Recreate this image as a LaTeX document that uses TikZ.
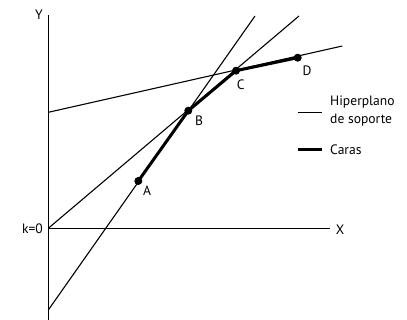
\documentclass[tikz,border=0pt]{standalone}
\usepackage{fontspec}
\setmainfont{PT Sans}
\usetikzlibrary{positioning}

\tikzset{
  hyperline/.style={black,line width=1.1pt},
  faceline/.style={black,line width=3pt},
  vertexdot/.style={circle,fill=black,inner sep=0pt,minimum size=8pt},
  ptlabel/.style={font=\fontsize{13.6}{18}\selectfont,inner sep=1pt},
}

\begin{document}
\begin{tikzpicture}[x=1pt,y=-1pt]
  \useasboundingbox (0,0) rectangle (407,320);

  % Axes, origin at k=0
  \coordinate (O) at (48.3,228.3);
  \coordinate (Ytop) at (48.3,15);
  \coordinate (Ybot) at (48.3,320);
  \coordinate (Xend) at (330,228.3);
  \draw[hyperline] (Ybot) -- (Ytop);
  \draw[hyperline] (O) -- (Xend);
  \node[ptlabel] (ylab) at (39,15) {Y};
  \node[ptlabel] (xlab) at (340,229.5) {X};
  \node[ptlabel,anchor=east] (klab) at (44,228.3) {k=0};

  % Vertices of the faces
  \node[vertexdot] (A) at (138.3,181) {};
  \node[vertexdot] (B) at (188.3,110.7) {};
  \node[vertexdot] (C) at (236,70.7) {};
  \node[vertexdot] (D) at (297.7,57.7) {};
  \node[ptlabel] (alab) at (147,191) {A};
  \node[ptlabel] (blab) at (199,121) {B};
  \node[ptlabel] (clab) at (240.7,85) {C};
  \node[ptlabel] (dlab) at (307,71) {D};

  % Supporting hyperplanes
  \coordinate (h1a) at (48.3,310);
  \coordinate (h1b) at (255,16);
  \coordinate (h2b) at (299,16);
  \coordinate (h3a) at (48.3,112.3);
  \coordinate (h3b) at (342.3,46);
  \draw[hyperline] (h1a) -- (h1b);
  \draw[hyperline] (O) -- (h2b);
  \draw[hyperline] (h3a) -- (h3b);

  % Faces
  \draw[faceline] (A.center) -- (B.center) -- (C.center) -- (D.center);

  % Legend
  \coordinate (lg1a) at (297.7,112.3);
  \coordinate (lg1b) at (321.7,112.3);
  \coordinate (lg2a) at (297.7,150);
  \coordinate (lg2b) at (321.7,150);
  \draw[hyperline] (lg1a) -- (lg1b);
  \draw[faceline] (lg2a) -- (lg2b);
  \node[ptlabel,anchor=west,align=left] (hyplab) at (329,111.5)
    {Hiperplano\\de soporte};
  \node[ptlabel,anchor=west] (carlab) at (329,150) {Caras};
\end{tikzpicture}
\end{document}
